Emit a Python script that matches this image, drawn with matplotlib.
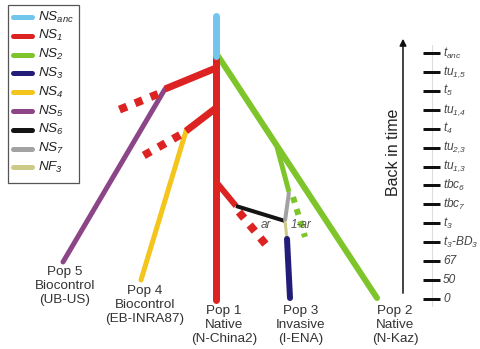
import matplotlib
matplotlib.use("Agg")
import matplotlib.pyplot as plt
from matplotlib.patches import Rectangle

plt.rcParams['font.family'] = ['Liberation Sans', 'DejaVu Sans']
plt.rcParams['mathtext.fontset'] = 'custom'
plt.rcParams['mathtext.it'] = 'Liberation Sans:italic'
plt.rcParams['mathtext.rm'] = 'Liberation Sans:italic'
plt.rcParams['mathtext.default'] = 'it'

# legend: population-size / founder parameters
legend_names = ['NS_anc', 'NS_1', 'NS_2', 'NS_3', 'NS_4', 'NS_5', 'NS_6', 'NS_7', 'NF_3']
legend_labels = [r'$NS_{anc}$', r'$NS_{1}$', r'$NS_{2}$', r'$NS_{3}$', r'$NS_{4}$',
                 r'$NS_{5}$', r'$NS_{6}$', r'$NS_{7}$', r'$NF_{3}$']
colors = {
    'NS_anc': '#72C5EC',
    'NS_1': '#DD2222',
    'NS_2': '#7EC52B',
    'NS_3': '#231C78',
    'NS_4': '#F4C51C',
    'NS_5': '#8C4586',
    'NS_6': '#141414',
    'NS_7': '#A2A2A2',
    'NF_3': '#CDC986',
}

# tree branches: (parameter, start node, end node, width px, dashed)
nodes = {
    'top': (216, 16), 'root': (216, 56), 'pop1': (216, 300),
    'g0': (218, 56), 'pop2': (377, 298),
    'r5': (216, 68), 'n5': (165, 89), 'd5a': (158, 94), 'd5b': (116, 111),
    'pop5': (63, 262),
    'r4': (216, 108), 'n4': (186, 131), 'd4a': (180, 135), 'd4b': (141, 157),
    'pop4': (141, 280),
    'r6': (217, 183), 'n6': (236, 206), 'd6a': (239, 212), 'd6b': (267, 246),
    'adm': (285, 221),
    'g7': (277, 147), 'n7': (289, 192), 'd7a': (293, 197), 'd7b': (305, 237),
    'n3': (287, 239), 'pop3': (290, 298),
}
branches = [
    ('NS_2', 'g0', 'pop2', 6, False),
    ('NS_2', 'g7', 'n7', 5, False),
    ('NS_2', 'd7a', 'd7b', 6, True),
    ('NS_5', 'n5', 'pop5', 5, False),
    ('NS_4', 'n4', 'pop4', 5, False),
    ('NS_1', 'root', 'pop1', 7, False),
    ('NS_1', 'r5', 'n5', 7, False),
    ('NS_1', 'd5a', 'd5b', 8, True),
    ('NS_1', 'r4', 'n4', 7, False),
    ('NS_1', 'd4a', 'd4b', 8, True),
    ('NS_1', 'r6', 'n6', 6, False),
    ('NS_1', 'd6a', 'd6b', 8, True),
    ('NS_6', 'n6', 'adm', 4, False),
    ('NS_7', 'n7', 'adm', 4, False),
    ('NF_3', 'adm', 'n3', 3, False),
    ('NS_3', 'n3', 'pop3', 6, False),
    ('NS_anc', 'top', 'root', 7, False),
]

pop_labels = ['Pop 5\nBiocontrol\n(UB-US)', 'Pop 4\nBiocontrol\n(EB-INRA87)',
              'Pop 1\nNative\n(N-China2)', 'Pop 3\nInvasive\n(I-ENA)',
              'Pop 2\nNative\n(N-Kaz)']
pop_label_pos = [(65, 266), (145, 285), (224, 305), (301, 305), (395, 305)]

time_labels = [r'$t_{anc}$', r'$tu_{1{,}5}$', r'$t_{5}$', r'$tu_{1{,}4}$', r'$t_{4}$',
               r'$tu_{2{,}3}$', r'$tu_{1{,}3}$', r'$tbc_{6}$', r'$tbc_{7}$', r'$t_{3}$',
               r'$t_{3}$-$BD_{3}$', '67', '50', '0']

px = 72 / 100.0

fig = plt.figure(figsize=(4.81, 3.49), dpi=100)
ax = fig.add_axes([0, 0, 1, 1])
ax.set_xlim(0, 481)
ax.set_ylim(349, 0)
ax.axis('off')

# branches
for key, a, b, w, dashed in branches:
    (x0, y0), (x1, y1) = nodes[a], nodes[b]
    if dashed:
        ax.plot([x0, x1], [y0, y1], color=colors[key], lw=w * px,
                linestyle=(0, (1, 1.1)), solid_capstyle='butt', dash_capstyle='butt')
    else:
        cap = 'round' if b.startswith('pop') or a == 'top' else 'butt'
        ax.plot([x0, x1], [y0, y1], color=colors[key], lw=w * px,
                solid_capstyle=cap)

ax.text(266, 225, 'ar', fontsize=8.5, style='italic', color='#555555',
        ha='center', va='center')
ax.text(301, 225, '1-ar', fontsize=8.5, style='italic', color='#555555',
        ha='center', va='center')

for lab, (x, y) in zip(pop_labels, pop_label_pos):
    ax.text(x, y, lab, fontsize=9.7, color='#333333', ha='center', va='top',
            linespacing=1.2)

# legend box
ax.add_patch(Rectangle((8, 5), 71, 178, fill=False, edgecolor='#555555', lw=0.9))
for i, (key, lab) in enumerate(zip(legend_names, legend_labels)):
    y = 17 + i * 18.8
    ax.plot([13, 32], [y, y], color=colors[key], lw=5 * px, solid_capstyle='round')
    ax.text(38, y, lab, fontsize=9.7, color='#222222', ha='left', va='center')

# time axis
ax.annotate('', xy=(403, 36), xytext=(403, 296),
            arrowprops=dict(arrowstyle='-|>', color='#111111', lw=1.1,
                            mutation_scale=10))
ax.text(394, 152, 'Back in time', rotation=90, fontsize=11.5, color='#222222',
        ha='center', va='center')
ax.plot([432, 432], [45, 306], color='#dddddd', lw=0.8)
n = len(time_labels)
for i, lab in enumerate(time_labels):
    y = 53 + i * (299 - 53) / (n - 1)
    ax.plot([423, 440], [y, y], color='#111111', lw=3 * px, solid_capstyle='butt')
    ax.text(443, y, lab, fontsize=8.6, style='italic', color='#444444',
            ha='left', va='center')

fig.savefig('out.png', dpi=100)
